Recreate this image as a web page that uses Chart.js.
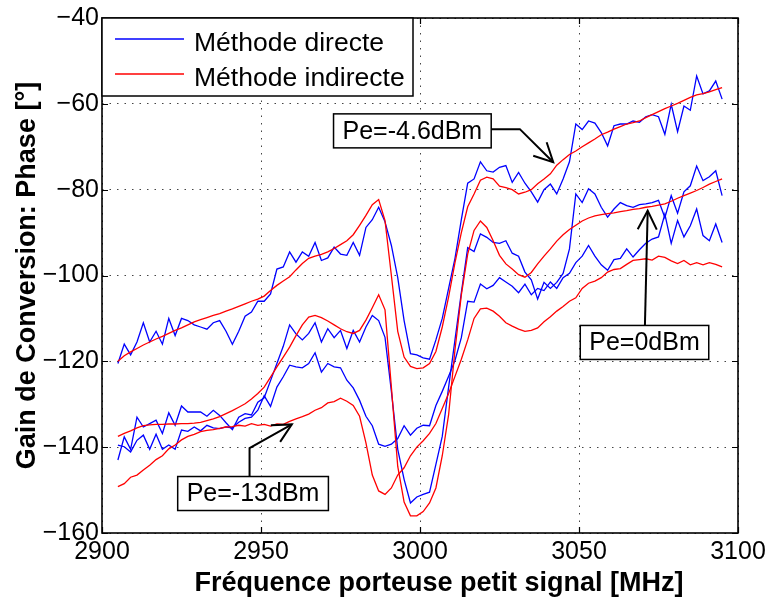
<!DOCTYPE html>
<html>
<head>
<meta charset="utf-8">
<title>Gain de Conversion: Phase</title>
<script src="https://cdn.jsdelivr.net/npm/chart.js@4.4.1/dist/chart.umd.min.js"></script>
<style>
html,body{margin:0;padding:0;background:#ffffff;}
#wrap{width:771px;height:606px;}
canvas{display:block;}
</style>
</head>
<body>
<div id="wrap"><canvas id="chart" width="771" height="606"></canvas></div>
<script>
const freqMHz = [
2905,2907,2909,2911,2913,2915,2917,2919,2921,2923,
2925,2927,2929,2931,2933,2935,2937,2939,2941,2943,
2945,2947,2949,2951,2953,2955,2957,2959,2961,2963,
2965,2967,2969,2971,2973,2975,2977,2979,2981,2983,
2985,2987,2989,2991,2993,2995,2997,2999,3001,3003,
3005,3007,3009,3011,3013,3015,3017,3019,3021,3023,
3025,3027,3029,3031,3033,3035,3037,3039,3041,3043,
3045,3047,3049,3051,3053,3055,3057,3059,3061,3063,
3065,3067,3069,3071,3073,3075,3077,3079,3081,3083,
3085,3087,3089,3091,3093,3095];

// Pe = -4.6 dBm
const directM46 = [
-120.5,-116,-118.5,-115.5,-111,-115.5,-113,-116,-110,-114,
-110,-110.5,-111.5,-112,-112.5,-111,-110.5,-113,-116,-113,
-109.5,-108.5,-106,-106,-104.3,-98.5,-98,-94.5,-96.9,-94.5,
-95.5,-92.3,-96.5,-95.9,-93.4,-95,-95.3,-92.3,-95.3,-88.8,
-87,-84.1,-87.5,-93,-100.5,-110.5,-118.2,-118.5,-119.2,-119.5,
-115,-110,-103,-96,-87,-78.5,-77.5,-73.5,-75.6,-75.9,
-74.8,-74.4,-78.3,-76,-78.5,-80.5,-82.9,-80,-78.7,-81,
-77.5,-73.5,-64.7,-66,-64,-64.5,-66.7,-69.8,-65.1,-64.7,
-64.7,-64,-64.3,-63,-62.5,-63,-67.1,-60.1,-66.5,-60.5,
-61.5,-53.5,-57.7,-57,-54.7,-58.9];
const indirectM46 = [
-120,-118.7,-117.8,-117,-116.2,-115.5,-114.8,-114.2,-113.5,-112.8,
-112.2,-111.5,-110.8,-110.3,-109.8,-109.3,-108.9,-108.3,-107.8,-107.2,
-106.6,-106,-105.5,-104.8,-103.5,-102.3,-101.3,-100.3,-98.7,-97.2,
-96,-95.5,-95.1,-94.5,-93.7,-92.8,-91.9,-90.5,-88.3,-86,
-83.5,-82.3,-87.2,-100,-113,-119,-121.2,-121.7,-121.5,-120.5,
-117.7,-112,-105,-97,-90,-84,-81,-77.8,-77.1,-77.5,
-79.2,-79.5,-80,-81,-80.6,-80,-78.6,-77.5,-76.3,-74.3,
-73,-71.8,-71,-70,-69.1,-68.2,-67.2,-66.6,-65.9,-65.3,
-64.7,-64.4,-64,-63.2,-62.5,-61.8,-61.1,-60.5,-59.9,-59.2,
-58.5,-57.9,-57.6,-57.2,-56.7,-56.2];

// Pe = 0 dBm
const directP0 = [
-143,-137.6,-140.5,-133,-135.3,-134.5,-133.7,-136.8,-132,-134.9,
-130.4,-131.8,-131.8,-131.8,-132.8,-131.4,-132.6,-134.3,-135.9,-133,
-132.2,-132.5,-129.5,-128.5,-124.5,-120.5,-116.5,-111.5,-113.6,-115,
-113.5,-111,-115.5,-112.4,-114.5,-112.8,-117,-112.8,-115.5,-112,
-109.3,-110.5,-114.4,-127,-140.5,-147.5,-153,-151.6,-151,-150.5,
-144,-137.5,-126,-115,-104,-93.5,-94.4,-90.3,-91.1,-92.3,
-92.5,-91.9,-94.8,-95.5,-99.2,-101,-105.5,-101.6,-103,-101.6,
-99.5,-93.8,-81,-83,-79.8,-81,-84.1,-86.4,-84.5,-83,
-83.7,-84.1,-83.5,-83.3,-83,-82.5,-86.5,-81.4,-85.5,-80.5,
-79.1,-74.5,-77.9,-77,-75.6,-81.4];
const indirectP0 = [
-137.5,-136.8,-136.2,-135.5,-135,-134.8,-134.7,-134.7,-134.6,-134.6,
-134.5,-134.5,-134.4,-134.2,-133.8,-133.4,-132.9,-132.2,-131.5,-130.7,
-129.9,-128.8,-127.5,-126,-123.7,-121.3,-119,-116.7,-114,-111.5,
-109.7,-109.3,-109.8,-110.6,-111.5,-112.4,-113.1,-113.5,-112.8,-110.4,
-107.5,-104.5,-108,-126,-144.5,-152.8,-156,-156,-155,-153,
-149.5,-142,-132.4,-117.3,-104.5,-95,-89.5,-87.3,-88.8,-91.9,
-95.3,-97.3,-98.5,-99.8,-100.4,-99.3,-97.3,-95.5,-93.8,-92,
-90.5,-89.3,-88.3,-87.3,-86.6,-86.1,-85.8,-85.6,-85.4,-85.1,
-84.9,-84.6,-84.4,-84.1,-83.9,-83.6,-83.3,-82.7,-82,-81.4,
-80.8,-80.2,-79.5,-78.7,-78.1,-77.5];

// Pe = -13 dBm
const directM13 = [
-139.5,-139.9,-141.1,-138.4,-137.2,-140.5,-137,-140.5,-139.5,-140.5,
-136,-136.3,-135.3,-136.2,-134.9,-135.5,-135.7,-135.3,-135.5,-134.2,
-133.3,-133,-131.4,-128,-130.5,-126,-123.6,-120.9,-121.3,-121.5,
-120.5,-118,-122.5,-120.5,-121.3,-121.5,-124.4,-126.2,-129.1,-132.8,
-135,-139.3,-139.8,-139.3,-138,-135,-137.2,-135.6,-134.9,-135,
-130.3,-127,-123.5,-119.8,-114.5,-106,-106.2,-102,-103.1,-102.3,
-100.5,-101.5,-102.5,-104,-102,-104.5,-103,-103.5,-101.5,-103,
-100.5,-99.5,-97,-95.5,-93,-95.5,-97.5,-98.8,-96.3,-96,
-93.8,-95.7,-94,-92.5,-91.5,-91,-85.7,-92.5,-87.2,-91,
-88.4,-84.5,-90.7,-91.9,-88,-92.3];
const indirectM13 = [
-149.2,-148.5,-147,-146.5,-145.3,-144.2,-142.9,-142,-140.4,-139.5,
-138.3,-137.5,-137,-136.4,-136.1,-135.9,-135.6,-135.3,-135.2,-134.9,
-135.1,-134.5,-134.9,-134.7,-135.1,-134.6,-134.7,-134,-133.4,-132.9,
-132.3,-131.4,-130.8,-129.7,-129.4,-128.6,-129.3,-130.3,-132.8,-139,
-146.5,-150.2,-151,-149.5,-146.5,-144.8,-142,-140,-138.5,-136.8,
-134.5,-131,-127.5,-123.5,-119.5,-115,-110,-107.8,-107.6,-108.3,
-109.5,-111,-111.8,-112.5,-113,-112.8,-112.2,-110.8,-109.6,-108.3,
-107.2,-106,-105.2,-103,-101.8,-101.3,-100.5,-99.2,-98.6,-98.4,
-97.4,-96.5,-96.3,-96.1,-96.4,-95.5,-95.8,-96.6,-97.2,-96.5,
-97.5,-97,-97.5,-97,-97.4,-98];

const xTicks = [2900, 2950, 3000, 3050, 3100];
const yTicks = [-160, -140, -120, -100, -80, -60, -40];
const labelDirect = 'Méthode directe';
const labelIndirect = 'Méthode indirecte';
const xTitle = 'Fréquence porteuse petit signal [MHz]';
const yTitle = 'Gain de Conversion: Phase [°]';

// text boxes with arrows (anchors in data units: MHz, degrees)
const annotationTexts = ['Pe=-4.6dBm', 'Pe=0dBm', 'Pe=-13dBm'];
const annotationCenters = [[2997.6, -66.3], [3070.6, -115.6], [2947.5, -150.8]];
const annotationPaths = [
  [[3015, -65.9], [3031.4, -65.9], [3041.9, -73.6]],
  [[3070.6, -115.6], [3071.6, -84.9]],
  [[2946.4, -150.0], [2946.4, -140.2], [2959.7, -134.7]]
];

const FONT = "'Liberation Sans', Arial, Helvetica, sans-serif";
const BLUE = '#0000ff';
const RED = '#ff0000';

function pts(ys) { return freqMHz.map((f, i) => ({x: f, y: ys[i]})); }

const datasets = [
  {label: labelIndirect, data: pts(indirectM46), borderColor: RED, order: 0},
  {label: labelIndirect, data: pts(indirectP0), borderColor: RED, order: 0},
  {label: labelIndirect, data: pts(indirectM13), borderColor: RED, order: 0},
  {label: labelDirect, data: pts(directM46), borderColor: BLUE, order: 1},
  {label: labelDirect, data: pts(directP0), borderColor: BLUE, order: 1},
  {label: labelDirect, data: pts(directM13), borderColor: BLUE, order: 1}
];

const framePlugin = {
  id: 'matlabFrame',
  beforeDraw(chart) {
    const c = chart.ctx;
    c.save();
    c.fillStyle = '#ffffff';
    c.fillRect(0, 0, chart.width, chart.height);
    c.restore();
  },
  afterDatasetsDraw(chart) {
    const ctx = chart.ctx;
    const a = chart.chartArea;
    const x = chart.scales.x, y = chart.scales.y;
    ctx.save();

    // annotations
    annotationTexts.forEach((txt, k) => {
      const p = annotationPaths[k].map(q => [x.getPixelForValue(q[0]), y.getPixelForValue(q[1])]);
      ctx.strokeStyle = '#000';
      ctx.lineWidth = 2;
      ctx.lineJoin = 'miter';
      ctx.beginPath();
      ctx.moveTo(p[0][0], p[0][1]);
      for (let i = 1; i < p.length; i++) ctx.lineTo(p[i][0], p[i][1]);
      ctx.stroke();
      const t = p[p.length - 1], s = p[p.length - 2];
      const ang = Math.atan2(t[1] - s[1], t[0] - s[0]);
      const L = 21, w = 27 * Math.PI / 180;
      ctx.beginPath();
      ctx.moveTo(t[0] - L * Math.cos(ang - w), t[1] - L * Math.sin(ang - w));
      ctx.lineTo(t[0], t[1]);
      ctx.lineTo(t[0] - L * Math.cos(ang + w), t[1] - L * Math.sin(ang + w));
      ctx.stroke();

      ctx.font = '25px ' + FONT;
      const tw = ctx.measureText(txt).width;
      const cx = x.getPixelForValue(annotationCenters[k][0]);
      const cy = y.getPixelForValue(annotationCenters[k][1]);
      const bw = tw + 18, bh = 34;
      ctx.fillStyle = '#fff';
      ctx.fillRect(cx - bw / 2, cy - bh / 2, bw, bh);
      ctx.lineWidth = 1.5;
      ctx.strokeRect(cx - bw / 2, cy - bh / 2, bw, bh);
      ctx.fillStyle = '#000';
      ctx.textAlign = 'center';
      ctx.textBaseline = 'middle';
      ctx.fillText(txt, cx, cy + 1);
    });

    // inward tick marks on all four sides
    ctx.strokeStyle = '#000';
    ctx.lineWidth = 1.2;
    const TL = 6;
    ctx.beginPath();
    xTicks.forEach(v => {
      const px = Math.round(x.getPixelForValue(v)) + 0.5;
      ctx.moveTo(px, a.bottom); ctx.lineTo(px, a.bottom - TL);
      ctx.moveTo(px, a.top); ctx.lineTo(px, a.top + TL);
    });
    yTicks.forEach(v => {
      const py = Math.round(y.getPixelForValue(v)) + 0.5;
      ctx.moveTo(a.left, py); ctx.lineTo(a.left + TL, py);
      ctx.moveTo(a.right, py); ctx.lineTo(a.right - TL, py);
    });
    ctx.stroke();

    // frame
    ctx.lineWidth = 1.6;
    ctx.strokeRect(a.left, a.top, a.right - a.left, a.bottom - a.top);

    // legend (inside top-left corner)
    const items = [[labelDirect, BLUE], [labelIndirect, RED]];
    const lx = a.left, ly = a.top, lw = 311, lh = 78;
    ctx.fillStyle = '#fff';
    ctx.fillRect(lx, ly, lw, lh);
    ctx.lineWidth = 1.5;
    ctx.strokeStyle = '#000';
    ctx.strokeRect(lx, ly, lw, lh);
    ctx.font = '26.5px ' + FONT;
    ctx.textAlign = 'left';
    ctx.textBaseline = 'alphabetic';
    items.forEach((it, i) => {
      const rowY = ly + 21 + i * 35;
      ctx.strokeStyle = it[1];
      ctx.lineWidth = 1.3;
      ctx.beginPath();
      ctx.moveTo(lx + 13, rowY);
      ctx.lineTo(lx + 82, rowY);
      ctx.stroke();
      ctx.fillStyle = '#000';
      ctx.fillText(it[0], lx + 92, rowY + 12);
    });

    // x axis title (drawn slightly right of axis centre, as in the reference)
    ctx.font = 'bold 27px ' + FONT;
    ctx.fillStyle = '#000';
    ctx.textAlign = 'center';
    ctx.textBaseline = 'middle';
    ctx.fillText(xTitle, (a.left + a.right) / 2 + 19, chart.height - 22);
    ctx.restore();
  }
};

new Chart(document.getElementById('chart'), {
  type: 'line',
  data: {datasets: datasets},
  options: {
    responsive: false,
    animation: false,
    devicePixelRatio: 1,
    layout: {padding: {left: 0, top: 17, right: 33, bottom: 0}},
    plugins: {legend: {display: false}, tooltip: {enabled: false}},
    elements: {point: {radius: 0}, line: {tension: 0, borderWidth: 1.3}},
    scales: {
      x: {
        type: 'linear', min: 2900, max: 3100,
        afterBuildTicks: s => { s.ticks = xTicks.map(v => ({value: v})); },
        afterFit: s => { s.height = 73; },
        grid: {color: '#444', lineWidth: 1, drawTicks: false},
        border: {display: false, dash: [1.5, 6]},
        ticks: {font: {size: 25, family: FONT}, color: '#000', padding: 4, maxRotation: 0, autoSkip: false,
                callback: v => String(v)},
        title: {display: false, text: xTitle}
      },
      y: {
        type: 'linear', min: -160, max: -40,
        afterBuildTicks: s => { s.ticks = yTicks.map(v => ({value: v})); },
        afterFit: s => { s.width = 102; },
        grid: {color: '#444', lineWidth: 1, drawTicks: false},
        border: {display: false, dash: [1.5, 6]},
        ticks: {font: {size: 25, family: FONT}, color: '#000', padding: 3, autoSkip: false,
                callback: v => (v < 0 ? '\u2212' + Math.abs(v) : String(v))},
        title: {display: true, text: yTitle, color: '#000',
                font: {size: 27, weight: 'bold', family: FONT}, padding: {top: 11, bottom: 0}}
      }
    }
  },
  plugins: [framePlugin]
});
</script>
</body>
</html>
